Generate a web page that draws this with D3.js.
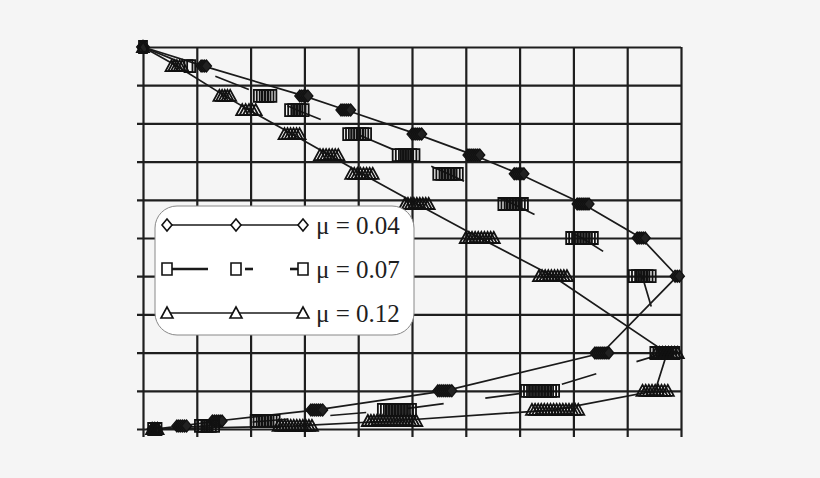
<html>
<head>
  <style>
    body { margin: 0; background: #f5f5f5; }
    .grid line { stroke: #1e1e1e; stroke-width: 2.2; }
    .grid path { display: none; }
    .curve { fill: none; stroke: #1a1a1a; stroke-width: 1.7; }
    .legend text { font-family: "Liberation Serif", serif; font-size: 25px; fill: #1e1e1e; }
  </style>
</head>
<body>
<svg class="chart"></svg>
<script src="https://cdn.jsdelivr.net/npm/d3@7"></script>
<script>
// shared y levels of the three curves
var levels = [10, 9.5, 8.72, 8.35, 7.72, 7.17, 6.68, 5.89, 5.0, 4.0, 1.99, 1.0, 0.5, 0.21, 0.08, 0];

// x positions per series (grid units)
var mu004 = [0, 1.13, 2.99, 3.77, 5.09, 6.15, 6.99, 8.18, 9.26, 9.93, 8.53, 5.61, 3.23, 1.38, 0.72, 0.22];
var mu007 = [0, 0.87, 2.27, 2.86, 3.98, 4.89, 5.67, 6.88, 8.16, 9.28, 9.70, 7.38, 4.72, 2.27, 1.19, 0.22];
var mu012 = [0, 0.63, 1.52, 1.97, 2.77, 3.46, 4.07, 5.09, 6.26, 7.62, 9.74, 9.52, 7.66, 4.63, 2.83, 0.22];

// horizontal spread of each smeared marker cluster (grid units)
var spread004 = [0.05, 0.1, 0.15, 0.18, 0.18, 0.22, 0.18, 0.22, 0.15, 0.08, 0.26, 0.26, 0.22, 0.18, 0.18, 0.1];
var spread007 = [0, 0.05, 0.27, 0.29, 0.37, 0.35, 0.4, 0.4, 0.44, 0.35, 0.39, 0.56, 0.56, 0.39, 0.3, 0.1];
var spread012 = [0, 0.2, 0.2, 0.25, 0.28, 0.34, 0.4, 0.44, 0.52, 0.52, 0.4, 0.47, 0.86, 0.9, 0.62, 0.1];

var labels = ["\u03bc = 0.04", "\u03bc = 0.07", "\u03bc = 0.12"];
var gridTicks = d3.range(0, 11);

var chart = d3.select(".chart")
  .attr("width", 820)
  .attr("height", 478);

var x = d3.scaleLinear().domain([0, 10]).range([143, 681]);
var y = d3.scaleLinear().domain([0, 10]).range([429, 47]);

// grid drawn with axes, ticks sticking out left and below
chart.append("g")
  .attr("class", "grid")
  .attr("transform", "translate(0," + (y(0) + 8) + ")")
  .call(d3.axisBottom(x).tickValues(gridTicks).tickSize(-(y(0) - y(10) + 8)).tickFormat(""));

chart.append("g")
  .attr("class", "grid")
  .attr("transform", "translate(" + (x(0) - 6) + ",0)")
  .call(d3.axisLeft(y).tickValues(gridTicks).tickSize(-(x(10) - x(0) + 6)).tickFormat(""));

var series = [
  { xs: mu004, spread: spread004, shape: "diamond", dash: null },
  { xs: mu007, spread: spread007, shape: "square", dash: "36,42" },
  { xs: mu012, spread: spread012, shape: "triangle", dash: null }
];

var line = d3.line()
  .x(function(d) { return x(d[0]); })
  .y(function(d) { return y(d[1]); });

series.forEach(function(s) {
  var pts = s.xs.map(function(v, i) { return [v, levels[i]]; });
  chart.append("path")
    .attr("class", "curve")
    .attr("d", line(pts))
    .attr("stroke-dasharray", s.dash)
    .attr("stroke-width", s.dash ? 2.4 : null);
});

function shapePath(shape) {
  if (shape == "diamond") return "M-5,0L0,-6L5,0L0,6Z";
  if (shape == "square") return "M-4,-6h8v12h-8Z";
  return "M-6,5L0,-6L6,5Z";
}

function drawCluster(g, shape, cx, cy, width) {
  var step = shape == "diamond" ? 2 : 3;
  var n = Math.max(1, Math.round(width / step) + 1);
  for (var k = 0; k < n; k++) {
    var dx = n == 1 ? 0 : -width / 2 + k * width / (n - 1);
    g.append("path")
      .attr("transform", "translate(" + (cx + dx) + "," + cy + ")")
      .attr("d", shapePath(shape))
      .attr("fill", shape == "diamond" ? "#222" : "none")
      .attr("stroke", "#111")
      .attr("stroke-width", shape == "diamond" ? 1.3 : 1.8);
  }
}

series.forEach(function(s) {
  var g = chart.append("g");
  s.xs.forEach(function(v, i) {
    var width = x(v + s.spread[i]) - x(v);
    drawCluster(g, s.shape, x(v), y(levels[i]), width);
  });
});

// legend
var legend = chart.append("g").attr("class", "legend");
legend.append("rect")
  .attr("x", 155).attr("y", 206)
  .attr("width", 259).attr("height", 129)
  .attr("rx", 22)
  .attr("fill", "#fff")
  .attr("stroke", "#888")
  .attr("stroke-width", 1);

var rowY = [225, 269, 313];
var keyX = [167, 236, 303];

series.forEach(function(s, i) {
  var row = legend.append("g").attr("transform", "translate(0," + rowY[i] + ")");
  if (s.dash) {
    [[162, 208], [245, 253], [290, 300]].forEach(function(seg) {
      row.append("line").attr("x1", seg[0]).attr("x2", seg[1])
        .attr("stroke", "#1a1a1a").attr("stroke-width", 2.6);
    });
  } else {
    row.append("line").attr("x1", keyX[0]).attr("x2", keyX[2])
      .attr("stroke", "#1a1a1a").attr("stroke-width", 1.5);
  }
  keyX.forEach(function(kx) {
    row.append("path")
      .attr("transform", "translate(" + kx + ",0)")
      .attr("d", s.shape == "square" ? "M-5,-6h10v12h-10Z" : shapePath(s.shape))
      .attr("fill", "#fff")
      .attr("stroke", "#111")
      .attr("stroke-width", 1.6);
  });
  row.append("text")
    .attr("x", 316)
    .attr("y", 9)
    .text(labels[i]);
});
</script>
</body>
</html>
